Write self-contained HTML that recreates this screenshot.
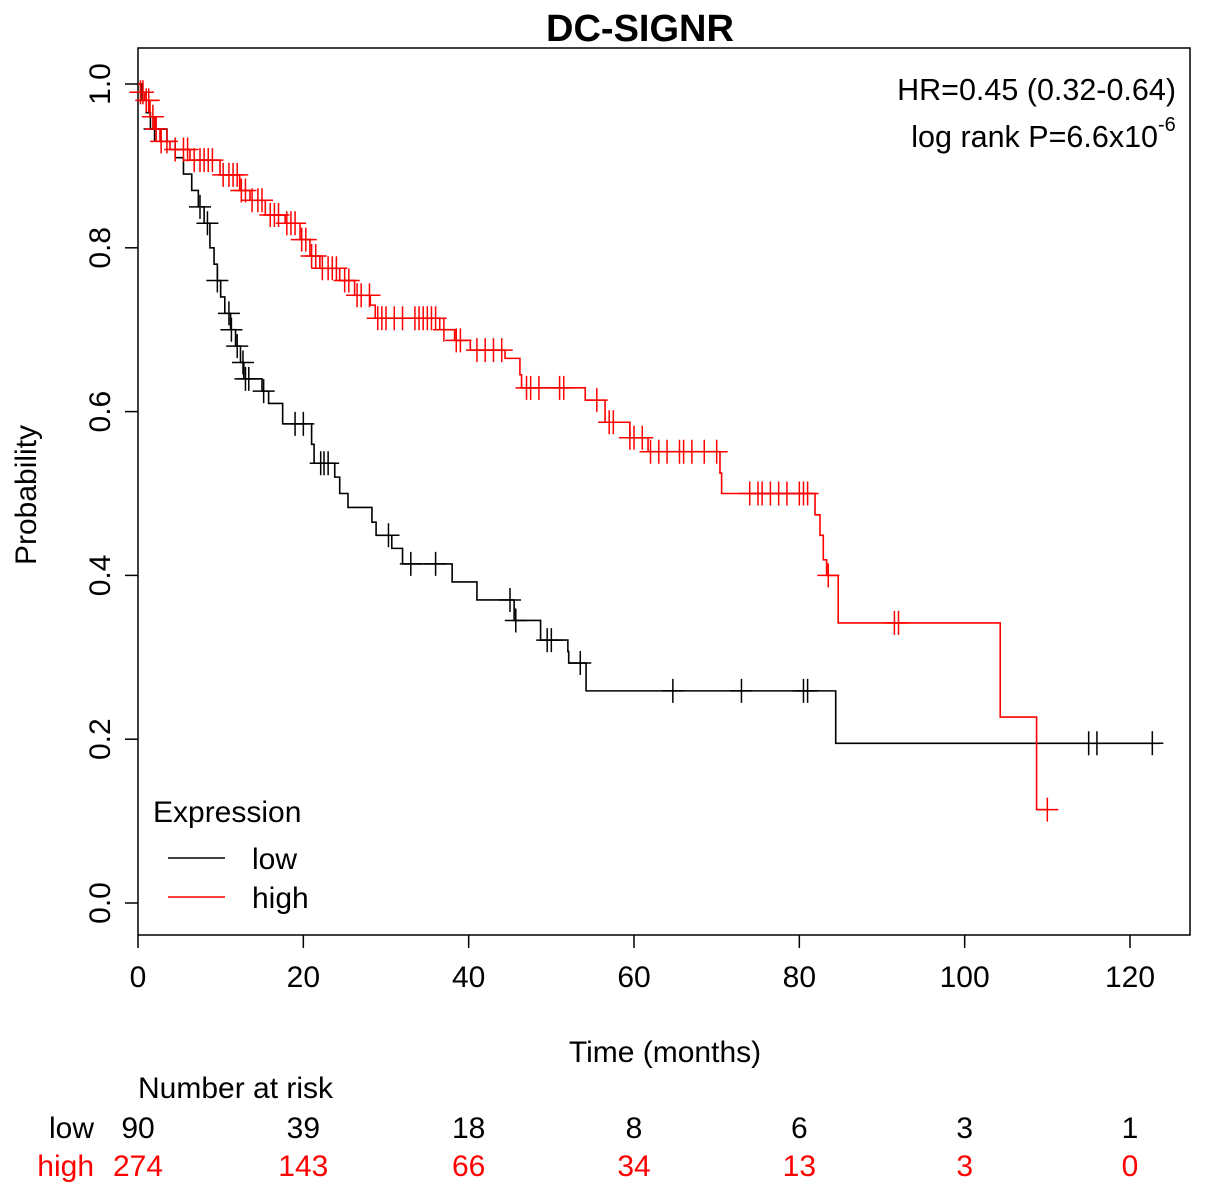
<!DOCTYPE html>
<html><head><meta charset="utf-8"><style>
body{margin:0;background:#fff}
svg text{font-family:"Liberation Sans",Arial,sans-serif}
</style></head><body>
<svg id="km" width="1205" height="1195" viewBox="0 0 1205 1195" xmlns="http://www.w3.org/2000/svg">
<text x="640" y="41" font-size="38" font-weight="bold" text-anchor="middle">DC-SIGNR</text>
<rect x="138" y="48" width="1052" height="887" fill="none" stroke="#000" stroke-width="1.5"/>
<g id="axes"></g>
<g id="series"></g>
<text x="1176" y="100" font-size="30.5" text-anchor="end">HR=0.45 (0.32-0.64)</text>
<text x="1158" y="147" font-size="30.5" text-anchor="end">log rank P=6.6x10</text>
<text x="1158" y="131" font-size="20">-6</text>
<text x="665" y="1062" font-size="30" text-anchor="middle">Time (months)</text>
<text transform="translate(36,495) rotate(-90)" font-size="30" text-anchor="middle">Probability</text>
<g>
<text x="153" y="822" font-size="30">Expression</text>
<line x1="168" y1="858" x2="225" y2="858" stroke="#000" stroke-width="1.5"/>
<text x="252" y="869" font-size="30">low</text>
<line x1="168" y1="897" x2="225" y2="897" stroke="#f00" stroke-width="1.5"/>
<text x="252" y="908" font-size="30">high</text>
</g>
<text x="138" y="1098" font-size="30">Number at risk</text>
<text x="94" y="1138" font-size="30" text-anchor="end">low</text>
<text x="94" y="1176" font-size="30" text-anchor="end" fill="#f00">high</text>
<g id="risk"></g>
</svg>
<script>
const xTicks=[0,20,40,60,80,100,120];
const yTicks=[0,0.2,0.4,0.6,0.8,1.0];
const yTickLabels=["0.0","0.2","0.4","0.6","0.8","1.0"];
const lowSteps=[[0.5,0.98],[1,0.965],[1.5,0.945],[3.5,0.93],[4.5,0.91],[5.5,0.89],[6.5,0.87],[7.3,0.85],[8,0.83],[8.7,0.80],[9.2,0.78],[9.6,0.76],[10,0.74],[10.5,0.72],[11.2,0.70],[11.8,0.68],[12.4,0.66],[12.8,0.64],[15,0.625],[15.8,0.61],[17.5,0.585],[21,0.56],[21.3,0.537],[23.8,0.52],[24.4,0.50],[25.4,0.483],[28.3,0.465],[28.8,0.449],[30.7,0.433],[32,0.414],[38,0.392],[41,0.37],[45.5,0.345],[48.7,0.321],[52,0.307],[52.1,0.293],[54.2,0.259],[84.4,0.195]];
const lowEnd=123.6;
const lowCensor=[2,7.5,8.4,9.6,11,11.3,12,12.7,13,13.4,15.2,19,20,22.1,22.5,23,30.3,33,36,45,45.7,49.5,50,53.5,64.7,73,80.5,81,115,116,122.7];
const highSteps=[[0.3,0.99],[0.8,0.98],[1.45,0.96],[2,0.945],[2.66,0.93],[3.87,0.92],[6.29,0.907],[9.92,0.889],[12.3,0.87],[13.55,0.858],[15.4,0.84],[17.8,0.83],[19.6,0.81],[20.8,0.79],[22.0,0.775],[24.4,0.76],[26.2,0.742],[28.1,0.73],[28.7,0.714],[36.5,0.70],[38.3,0.687],[40.2,0.675],[44.4,0.665],[46.2,0.645],[46.4,0.629],[54.1,0.614],[56.5,0.587],[59.5,0.568],[61.7,0.551],[70.4,0.525],[70.6,0.50],[81.9,0.474],[82.5,0.449],[82.9,0.419],[83.3,0.40],[84.7,0.342],[104.3,0.227],[108.7,0.114]];
const highEnd=110.3;
const highCensor=[0.3,0.6,1,1.3,1.8,2.2,2.8,3.5,4.5,5.5,6,6.8,7.5,8,8.5,9,10.3,11,11.5,12,12.5,13,13.8,14.5,15,16,16.5,17,18,18.5,19,19.8,20.3,21,21.5,22.3,23,23.5,24,25,25.5,26.5,27,28,29,29.5,30,31,32,33.5,34,34.5,35,35.5,36,37,38.5,39,41,42,43,44,47,47.5,48.5,51,51.5,55.5,57,57.5,59.5,60,61,62,63,64,65.5,66,67,68.5,70,74,75,75.5,76.5,77.5,78.5,80,80.5,81,83.5,91.5,92,110];
const riskLow=[90,39,18,8,6,3,1];
const riskHigh=[274,143,66,34,13,3,0];

const NS="http://www.w3.org/2000/svg";
const X=t=>138+t*(992/120);
const Y=s=>903-s*819;
function mk(tag,attrs,parent){const e=document.createElementNS(NS,tag);for(const k in attrs)e.setAttribute(k,attrs[k]);parent.appendChild(e);return e;}
const axes=document.getElementById('axes');
xTicks.forEach(v=>{
  const l=mk('line',{x1:X(v),y1:935,x2:X(v),y2:948,stroke:'#000','stroke-width':1.5},axes);
  
  
  const t=mk('text',{x:X(v),y:987,'font-size':30,'text-anchor':'middle'},axes);t.textContent=v;
  
  
});
yTicks.forEach((v,i)=>{
  const l=mk('line',{x1:125,y1:Y(v),x2:138,y2:Y(v),stroke:'#000','stroke-width':1.5},axes);
  
  
  const t=mk('text',{transform:`translate(110,${Y(v)}) rotate(-90)`,'font-size':30,'text-anchor':'middle'},axes);t.textContent=yTickLabels[i];
  
  
});
function survAt(steps,t){let s=1;for(const [a,b] of steps){if(a<=t)s=b;else break;}return s;}
function drawSeries(steps,end,cens,color,name){
  const g=document.getElementById('series');
  let d=`M${X(0)},${Y(1)}`;
  steps.forEach(([t,v])=>{d+=` H${X(t)} V${Y(v)}`;});
  d+=` H${X(end)}`;
  const p=mk('path',{d:d,fill:'none',stroke:color,'stroke-width':1.6},g);
  
  
  cens.forEach(t=>{
    const x=X(t),y=Y(survAt(steps,t));
    const c=mk('path',{d:`M${x-11},${y}H${x+11}M${x},${y-12}V${y+12}`,stroke:color,'stroke-width':1.5,fill:'none'},g);
    
    
  });
}
drawSeries(lowSteps,lowEnd,lowCensor,'#000','low');
drawSeries(highSteps,highEnd,highCensor,'#f00','high');
const risk=document.getElementById('risk');
xTicks.forEach((v,i)=>{
  const a=mk('text',{x:X(v),y:1138,'font-size':30,'text-anchor':'middle'},risk);a.textContent=riskLow[i];
  
  
  const b=mk('text',{x:X(v),y:1176,'font-size':30,'text-anchor':'middle',fill:'#f00'},risk);b.textContent=riskHigh[i];
  
  
});
</script>
</body></html>
